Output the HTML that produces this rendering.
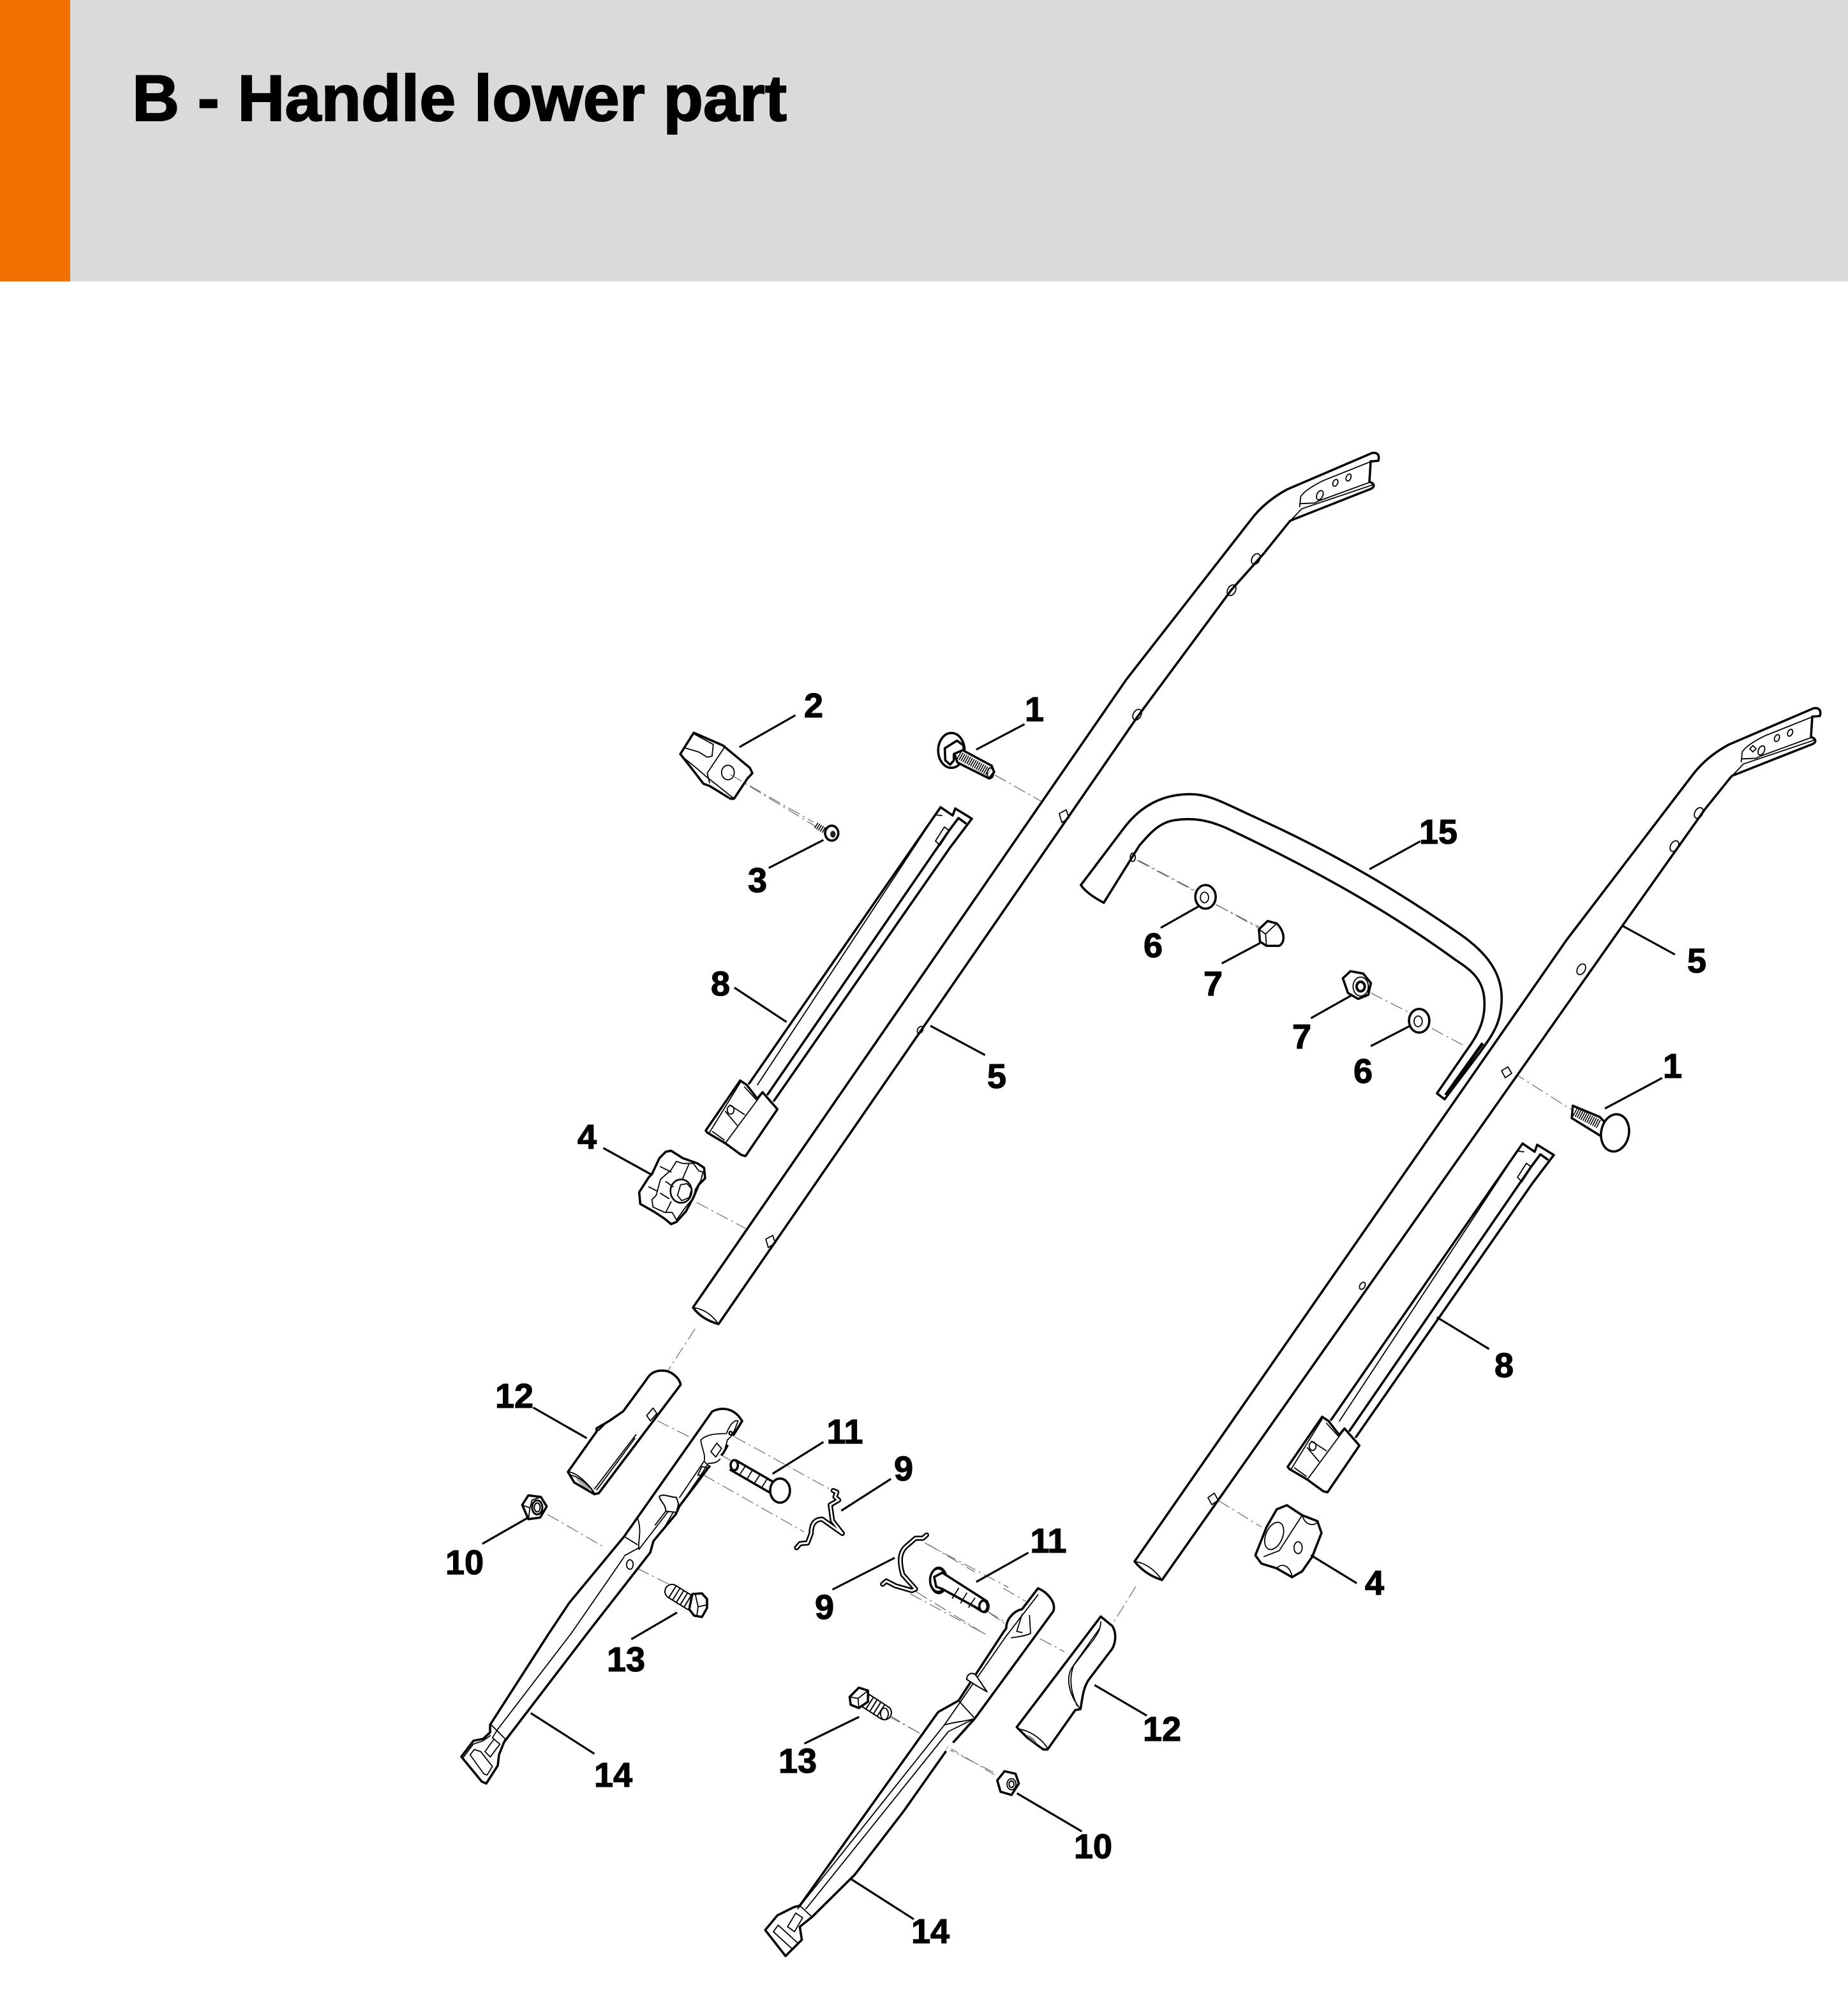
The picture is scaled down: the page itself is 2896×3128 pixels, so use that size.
<!DOCTYPE html>
<html><head><meta charset="utf-8"><title>B - Handle lower part</title>
<style>
html,body{margin:0;padding:0;background:#fff}
svg{display:block}
svg *{vector-effect:non-scaling-stroke}
.p{fill:#fff;stroke:#000;stroke-width:3.6;stroke-linejoin:round;stroke-linecap:round}
.t{fill:none;stroke:#000;stroke-width:1.8;stroke-linejoin:round;stroke-linecap:round}
.b{fill:none;stroke:#000;stroke-width:3.6;stroke-linejoin:round;stroke-linecap:round}
.d{fill:none;stroke:#666;stroke-width:1.2;stroke-dasharray:20 6 3 6}
.l{fill:none;stroke:#000;stroke-width:3.2}
.c1{fill:none;stroke:#000;stroke-width:8;stroke-linejoin:round;stroke-linecap:round}
.c2{fill:none;stroke:#fff;stroke-width:3;stroke-linejoin:round;stroke-linecap:round}
.w{fill:none;stroke:#fff;stroke-width:6}
text.n{font-family:"Liberation Sans",sans-serif;font-weight:bold;font-size:54px;fill:#000;stroke:#000;stroke-width:1.2;text-anchor:middle}
</style></head><body>
<svg xmlns="http://www.w3.org/2000/svg" width="2896" height="3128" viewBox="0 0 2896 3128">
<rect width="2896" height="3128" fill="#fff"/>
<rect width="2896" height="441" fill="#d9dbda"/>
<rect width="110" height="441" fill="#f07000"/>
<text x="207" y="189" font-family="'Liberation Sans',sans-serif" font-weight="bold" font-size="102" textLength="1026" lengthAdjust="spacingAndGlyphs" fill="#000" stroke="#000" stroke-width="2">B - Handle lower part</text>

<!-- dashed centre lines -->
<g transform="translate(1000,680) scale(.7653,.9056)">
<path class="d" d="M190,590L365,680M730,590L830,638M120,1330L220,1375M1025,738L1140,790M1185,815L1270,855"/>
</g>
<g transform="translate(1650,1080) scale(.7972,.9247)">
<path class="d" d="M625,515L705,550M745,575L810,605M905,650L1018,712M325,1375L410,1420"/>
</g>
<g transform="translate(680,2040) scale(.574,.4974)">
<path class="d" d="M713,85L640,215M610,375L705,430M820,425L1080,590M780,480L810,500M735,545L1010,725M310,670L460,770M555,840L650,895M1340,760L1568,900M1300,920L1510,1050M1510,975L1568,1015M1240,1305L1335,1365M1400,1400L1530,1490"/>
</g>
<g transform="translate(1180,2280) scale(.638,.51)">
<path class="d" d="M940,405L883,520M615,410L670,450M580,485L620,520M705,565L765,605M465,895L590,975"/>
</g>

<!-- 15 -->
<g transform="translate(1650,1080) scale(.7972,.9247)">
<path class="p" d="M55,332L140,235C175,195 220,178 270,178C310,178 340,195 400,218C520,265 650,325 800,415C850,445 885,480 882,530C880,570 860,590 840,615L770,695L755,685L815,610C845,575 850,550 848,525C845,490 820,475 790,458C650,370 500,300 340,235C300,220 270,218 240,222C210,225 190,245 170,265L100,362C85,355 65,345 55,332Z"/>
<line x1="845" y1="600" x2="772" y2="688" stroke="#000" stroke-width="5"/>
<ellipse class="t" cx="157" cy="285" rx="5" ry="7"/>
<path class="d" d="M165,290L285,345M320,365L410,405"/>
</g>

<!-- handles -->
<path class="p" d="M1086,2049L1765,1065L1960,815C1975,795 1993,780 2017,767L2150,710C2160,708 2162,715 2160,722C2158,722 2155,723 2148,723L2146,755C2155,758 2155,764 2146,767L2037,810L2022,816L2017,822L1980,868L1930,924L1782,1124L1126,2075Q1100,2068 1086,2049Z"/>
<path class="t" d="M1086,2049Q1110,2052 1126,2075"/>
<path class="p" d="M1778,2447L2455,1473L2652,1215C2667,1195 2685,1180 2709,1167L2842,1110C2852,1108 2854,1115 2852,1122C2850,1122 2847,1123 2840,1123L2838,1155C2847,1158 2847,1164 2838,1167L2729,1210L2714,1216L2709,1222L2672,1268L2543,1450L1821,2476Q1795,2468 1778,2447Z"/>
<path class="t" d="M1778,2447Q1802,2450 1821,2476"/>
<path class="w" d="M2370,1672L2364,1680" />
<g transform="translate(1960,690) scale(.3333)">
<path class="t" d="M565,100L340,190C290,215 250,240 235,265L230,312M232,298L300,295M558,198L320,285L300,295M240,322L578,208M240,322L185,380"/>
<ellipse class="t" cx="325" cy="258" rx="14" ry="23" transform="rotate(25 325 258)"/>
<ellipse class="t" cx="398" cy="200" rx="11" ry="17" transform="rotate(25 398 200)"/>
<ellipse class="t" cx="460" cy="175" rx="11" ry="17" transform="rotate(25 460 175)"/>
</g>
<g transform="translate(2652,1090) scale(.3333)">
<path class="t" d="M565,100L340,190C290,215 250,240 235,265L230,312M232,298L300,295M558,198L320,285L300,295M240,322L578,208M240,322L185,380"/>
<ellipse class="t" cx="325" cy="258" rx="14" ry="23" transform="rotate(25 325 258)"/>
<ellipse class="t" cx="398" cy="200" rx="11" ry="17" transform="rotate(25 398 200)"/>
<ellipse class="t" cx="460" cy="175" rx="11" ry="17" transform="rotate(25 460 175)"/>
<path class="t" d="M270,250L285,235L300,250L285,265Z"/>
</g>
<!-- holes and tabs on handles -->
<g>
<ellipse class="t" cx="1968" cy="876" rx="6" ry="9" transform="rotate(30 1968 876)"/>
<ellipse class="t" cx="1930" cy="925" rx="6" ry="9" transform="rotate(30 1930 925)"/>
<ellipse class="t" cx="1782" cy="1120" rx="6" ry="9" transform="rotate(30 1782 1120)"/>
<ellipse class="t" cx="1442" cy="1614" rx="4" ry="6" transform="rotate(30 1442 1614)"/>
<path class="t" d="M1660,1275L1671,1269L1675,1282L1664,1289Z"/>
<path class="t" d="M1200,1942L1211,1936L1215,1948L1204,1955Z"/>
<ellipse class="t" cx="2662" cy="1274" rx="6" ry="9" transform="rotate(30 2662 1274)"/>
<ellipse class="t" cx="2624" cy="1326" rx="6" ry="9" transform="rotate(30 2624 1326)"/>
<ellipse class="t" cx="2478" cy="1519" rx="6" ry="9" transform="rotate(30 2478 1519)"/>
<ellipse class="t" cx="2135" cy="2015" rx="4" ry="6" transform="rotate(30 2135 2015)"/>
<path class="t" d="M2353,1678L2363,1672L2369,1682L2359,1689Z"/>
<path class="t" d="M1893,2347L1903,2340L1909,2351L1899,2358Z"/>
</g>

<!-- 2, 1, 3 -->
<g transform="translate(980,1120) scale(.3827,.3333)">
<path class="p" d="M225,185L280,85L400,145L510,250L520,275L500,300L445,395L430,395L345,335L320,325L290,280Z"/>
<path class="t" d="M405,155L335,275L345,320M240,155L300,175L335,200L355,195L360,140L280,90M225,190L290,250L330,290L440,390"/>
<ellipse class="t" cx="420" cy="272" rx="26" ry="34"/>
<path class="d" d="M430,282L770,505"/>
<ellipse class="p" cx="1335" cy="168" rx="54" ry="82"/>
<path class="p" d="M1345,175L1370,160L1500,240L1510,270L1490,300L1360,225Z"/>
<line x1="1365" y1="190" x2="1490" y2="270" stroke="#000" stroke-width="13" style="stroke-dasharray:1.6 1.8"/>
<ellipse class="t" cx="1495" cy="275" rx="13" ry="25"/>
<path class="p" d="M1308,158L1358,122L1385,145L1385,165L1345,185L1345,215L1330,235L1310,215Z"/>
<line x1="780" y1="520" x2="822" y2="548" stroke="#000" stroke-width="10" style="stroke-dasharray:1.6 1.8"/>
<ellipse class="p" cx="845" cy="557" rx="27" ry="35"/>
<ellipse cx="850" cy="562" rx="11" ry="16" fill="#222"/>
</g>

<!-- 8 (both) -->
<g id="r8">
<path d="M1174,1698L1474,1265L1493,1278L1497,1267L1523,1283L1489,1328L1213,1725Z" fill="#fff"/>
<path class="b" d="M1174,1698L1474,1265L1493,1278L1497,1267L1523,1283M1203,1715L1487,1302L1502,1282L1513,1290M1213,1725L1489,1328L1523,1283"/>
<path class="t" d="M1187,1700L1466,1277L1476,1278M1466,1318L1480,1296L1488,1302L1473,1325Z"/>
<g transform="translate(980,1660) scale(.3333)">
<path class="p" d="M378,335L540,100L570,120L620,185L645,155L715,235L565,455L545,450L470,395L385,345Z"/>
<path class="t" d="M395,345L540,110M470,395L640,165M560,130L615,190M470,245L525,310M490,215L560,260M410,340L465,380"/>
<ellipse class="t" cx="495" cy="238" rx="16" ry="20"/>
</g>
</g>
<use href="#r8" x="912" y="527"/>

<!-- knob 4 left -->
<g transform="translate(980,1660) scale(.3333)">
<path class="p" d="M65,625L110,555L125,540L160,465L190,435L215,430L270,465L340,490L370,510L375,560L345,590L320,650L285,715L240,765L215,775L185,750L140,720L105,700L70,680Z"/>
<path class="t" d="M215,520L240,480L270,490L320,490L345,525L365,530L355,570L330,610L320,650L280,700L240,755L220,720L185,720L130,695L125,660L145,640L165,565L215,520M165,505L215,530M110,600L150,620M300,490L270,560M215,670L190,720M190,575L225,600M165,630L205,655"/>
<ellipse class="b" cx="262" cy="620" rx="50" ry="55" style="stroke-width:2.6"/>
<path class="t" d="M260,590L290,585L312,610L300,650L265,665L245,640Z"/>
</g>

<!-- knob 4 right -->
<g transform="translate(1650,1080) scale(.7972,.9247)">
<path class="p" d="M398,1468L420,1420L440,1390L460,1383L490,1400L520,1410L528,1430L510,1470L490,1495L470,1505L440,1490L410,1482Z"/>
<ellipse class="t" cx="435" cy="1435" rx="16" ry="25" transform="rotate(30 435 1435)"/>
<ellipse class="t" cx="482" cy="1455" rx="8" ry="10"/>
<path class="t" d="M490,1400C495,1415 510,1420 520,1412M440,1490C450,1480 465,1485 470,1503M415,1470L445,1460L490,1400"/>
</g>

<!-- washers and nuts -->
<g transform="translate(1650,1080) scale(.7972,.9247)">
<ellipse class="p" cx="300" cy="352" rx="20" ry="20"/><ellipse class="t" cx="298" cy="353" rx="8" ry="9"/>
<path class="p" d="M405,407L422,393L440,397C455,410 458,428 445,435L420,435L407,428Z"/>
<path class="t" d="M405,407L418,415L440,397M418,415L420,435"/>
<path class="p" d="M570,490L585,478L610,482L625,498L620,518L600,525L580,515Z"/>
<ellipse class="t" cx="605" cy="504" rx="15" ry="16"/><circle cx="605" cy="504" r="8" fill="none" stroke="#000" stroke-width="4"/>
<ellipse class="p" cx="720" cy="562" rx="20" ry="20"/><ellipse class="t" cx="718" cy="563" rx="8" ry="9"/>
<!-- 1 right -->
<path class="p" d="M1022,706L1075,725L1092,740L1082,760L1020,727Z"/>
<line x1="1026" y1="716" x2="1075" y2="738" stroke="#000" stroke-width="14" style="stroke-dasharray:1.6 1.8"/>
<ellipse class="p" cx="1105" cy="752" rx="27" ry="32" transform="rotate(20 1105 752)"/>
</g>

<!-- 12 left + clip area of 14 left -->
<g transform="translate(880,2130) scale(.3333)">
<path class="p" d="M30,530L165,340L165,325L225,290L290,245L400,95C420,60 450,50 490,55C520,60 555,90 560,120L175,630L155,635L60,580Z"/>
<path class="t" d="M30,530C70,530 130,590 155,630M40,545C80,550 125,590 148,622M350,355L155,610M345,372L165,615M165,340L205,305L175,335"/>
<ellipse cx="100" cy="585" rx="40" ry="9" transform="rotate(40 100 585)" fill="#555" opacity=".5"/>
<path class="t" d="M400,265L430,230L448,255L418,290Z"/>
</g>
<path class="p" d="M723,2753L742,2728L757,2725L768,2715L768,2703L860,2560L892,2512L978,2408L1116,2212C1130,2205 1150,2205 1163,2227L1150,2248L1133,2278L1110,2300L1093,2323L1065,2360L1059,2373L1024,2415L1019,2433L920,2560L790,2730L782,2750L780,2767L762,2795L755,2792Z"/>
<path class="w" d="M1150,2251L1140,2264M1131,2282L1113,2297"/>
<g transform="translate(880,2130) scale(.3333)">
<path class="t" d="M775,350C795,300 815,285 830,290L815,330L800,360L780,380L770,415M770,350C720,350 680,355 655,380C655,410 680,450 670,480L555,650M670,480L690,500M745,470C730,490 700,490 690,490L655,545L640,545L660,505L685,510M655,545L555,690"/>
<path class="p" style="stroke-width:2" d="M460,645C480,630 510,650 540,650L550,680L540,720L490,715C490,680 460,665 460,645Z"/>
<path class="t" d="M490,715L440,780M525,720L490,780"/>
<path class="t" d="M702,435L730,395L752,420L725,460Z"/>
<ellipse class="b" cx="795" cy="348" rx="7" ry="8" style="stroke-width:2.4"/>
</g>
<g transform="translate(680,2040) scale(.574,.4974)">
<path class="t" d="M520,740L555,765M555,680C570,720 555,760 560,780"/>
<path class="t" d="M560,780L640,660"/>
<path class="t" d="M520,800L560,775"/>
<ellipse class="t" cx="535" cy="828" rx="9" ry="15"/>
</g>
<path class="t" d="M780,2710L895,2560L978,2440"/>
<g transform="translate(700,2560) scale(.3333)">
<path class="t" d="M80,580L125,520L170,505L205,480M110,570L130,545L160,555L215,625L190,665L175,660ZM210,430L275,495L265,520M240,450L215,490L250,520L205,580L180,555L220,500"/>
</g>

<!-- clips 9 -->
<g transform="translate(680,2040) scale(.574,.4974)">
<path class="c1" d="M1090,595L1100,600L1095,615L1105,625L1082,640L1088,690L1115,730L1060,685C1040,685 1030,700 1030,730L1020,760L1000,762L990,775"/>
<path class="c2" d="M1090,595L1100,600L1095,615L1105,625L1082,640L1088,690L1115,730L1060,685C1040,685 1030,700 1030,730L1020,760L1000,762L990,775"/>
<path class="c1" d="M1345,735L1335,745L1315,745L1290,770C1270,790 1270,820 1280,860L1315,905L1305,910L1260,895L1235,880L1225,890"/>
<path class="c2" d="M1345,735L1335,745L1315,745L1290,770C1270,790 1270,820 1280,860L1315,905L1305,910L1260,895L1235,880L1225,890"/>

<!-- 11 a -->
<path class="p" d="M825,500L930,570L915,600L810,530Z"/>
<ellipse class="p" cx="820" cy="515" rx="10" ry="16"/>
<path class="t" d="M850,518L835,545M870,530L855,558M890,545L875,572M910,558L895,585"/>
<ellipse class="p" cx="945" cy="595" rx="27" ry="38"/>
<!-- 11 b -->
<ellipse class="p" cx="1378" cy="878" rx="22" ry="40"/>
<path class="p" d="M1375,875L1392,858L1495,945L1510,950L1495,975L1400,905L1385,905Z"/>
<path class="t" d="M1430,890L1415,918M1450,905L1435,932M1470,920L1455,948"/>
<ellipse class="p" cx="1503" cy="960" rx="11" ry="18"/>
<!-- 10 left -->
<path class="p" d="M241,640L258,610L292,615L308,645L290,680L258,685Z"/>
<path class="t" d="M241,640L262,650L258,685M262,650L268,625L292,615"/>
<ellipse cx="282" cy="648" rx="14" ry="22" fill="#fff" stroke="#000" stroke-width="3"/>
<ellipse cx="282" cy="648" rx="8" ry="14" fill="none" stroke="#000" stroke-width="2"/>
</g>

<!-- bolts 13 -->
<line x1="1053" y1="2494" x2="1082" y2="2512" stroke="#000" stroke-width="24" stroke-linecap="round"/>
<line x1="1053" y1="2494" x2="1082" y2="2512" stroke="#fff" stroke-width="20" stroke-linecap="round"/>
<line x1="1053" y1="2494" x2="1082" y2="2512" stroke="#000" stroke-width="20" style="stroke-dasharray:2 5"/>
<path class="p" d="M1085,2498L1100,2497L1108,2506L1108,2520L1100,2534L1088,2532L1080,2522Z"/>
<path class="t" d="M1090,2500L1094,2518L1108,2515M1094,2518L1092,2532"/>
<line x1="1352" y1="2662" x2="1386" y2="2684" stroke="#000" stroke-width="24" stroke-linecap="round"/>
<line x1="1352" y1="2662" x2="1386" y2="2684" stroke="#fff" stroke-width="20" stroke-linecap="round"/>
<line x1="1356" y1="2665" x2="1386" y2="2684" stroke="#000" stroke-width="20" style="stroke-dasharray:2 5"/>
<ellipse class="t" cx="1386" cy="2686" rx="6" ry="9" style="fill:#fff"/>
<g transform="translate(680,2040) scale(.574,.4974)">
<path class="p" d="M1135,1245L1160,1216L1185,1225L1185,1260L1160,1280L1138,1270Z"/>
<path class="t" d="M1135,1245L1158,1250L1185,1225M1158,1250L1160,1280"/>
</g>

<!-- 14 right and others -->
<g transform="translate(1180,2280) scale(.638,.51)">
<path class="d" d="M335,800L415,860"/>
<path class="p" d="M30,1460L60,1415L100,1390L115,1385L455,790L505,755L615,545L622,533C622,505 640,480 661,474L700,410C720,420 745,450 738,480L545,810L480,900L370,1095L250,1290L145,1420L115,1450L120,1490L80,1540Z"/>
<path class="w" d="M492,885L476,912"/>
<path class="t" d="M110,1395L470,830L620,560L700,430M130,1395L480,850L545,810M115,1385L145,1420M505,755L545,810M470,830C495,820 520,820 545,810"/>
<path class="t" d="M50,1465L62,1445L110,1500L98,1520ZM85,1450L105,1408L122,1422L102,1465Z"/>
<path class="p" style="stroke-width:2" d="M525,690C525,672 540,665 548,678L575,728L550,710Z"/>
<path class="d" d="M430,275L545,360M400,420L575,555"/>
<!-- 11 -->
<ellipse class="p" cx="455" cy="385" rx="20" ry="36"/>
<path class="p" d="M445,375L465,362L550,430L575,450L565,480L535,460L465,412L450,405Z"/>
<path class="t" d="M505,410L490,440M525,425L510,455M545,440L530,468"/>
<ellipse class="p" cx="566" cy="465" rx="10" ry="17"/>
<!-- 10 -->
<path class="p" d="M600,1000L618,972L645,980L653,1010L635,1045L608,1035Z"/>
<ellipse class="t" cx="635" cy="1012" rx="11" ry="17"/>
<ellipse cx="635" cy="1012" rx="6" ry="10" fill="none" stroke="#000" stroke-width="2"/>
</g>
<g transform="translate(1560,2480) scale(.3333)">
<path class="t" d="M160,155L165,240C130,255 100,255 75,260M125,150L100,230L125,235"/>
<path class="p" d="M100,680L495,160L550,205C570,240 565,280 550,310L440,455C415,490 410,530 400,595L375,600L245,785L225,785L150,730Z"/>
<path class="t" d="M495,185C495,220 480,240 460,270L360,400C335,440 335,510 395,590M490,215L370,385C350,430 345,500 385,580M105,690C150,690 215,730 245,780"/>
<ellipse cx="170" cy="738" rx="30" ry="9" transform="rotate(40 170 738)" fill="#444" opacity=".6"/>
</g>

<!-- leaders -->
<g transform="scale(1.9945)">
<path class="l" d="M767,589L805,569M581,587L625,562M604,682L647,660M577,776L618,803M731,806L774,829M474,902L512,923M1076,683L1116,661M912,729L942,712M960,757L990,741M1030,800L1062,782M1077,822L1108,806M1274,727L1316,750M1261,871L1306,847M1129,1035L1170,1060M1030,1222L1066,1244M419,1106L461,1130M607,1158L647,1133M661,1187L700,1162M379,1213L414,1193M654,1249L703,1224M767,1243L808,1220M496,1288L532,1267M632,1370L675,1349M417,1346L467,1378M668,1476L718,1508M860,1324L901,1348M799,1409L850,1439"/>
</g>

<!-- labels -->
<g>
<text class="n" x="1621" y="1130">1</text>
<text class="n" x="1275" y="1124">2</text>
<text class="n" x="1187" y="1398">3</text>
<text class="n" x="1129" y="1560">8</text>
<text class="n" x="1562" y="1705">5</text>
<text class="n" x="920" y="1800">4</text>
<text class="n" x="2254" y="1322">15</text>
<text class="n" x="1807" y="1500">6</text>
<text class="n" x="1901" y="1560">7</text>
<text class="n" x="2040" y="1643">7</text>
<text class="n" x="2136" y="1697">6</text>
<text class="n" x="2659" y="1524">5</text>
<text class="n" x="2621" y="1689">1</text>
<text class="n" x="2357" y="2158">8</text>
<text class="n" x="2154" y="2499">4</text>
<text class="n" x="806" y="2206">12</text>
<text class="n" x="1324" y="2262">11</text>
<text class="n" x="1416" y="2320">9</text>
<text class="n" x="728" y="2467">10</text>
<text class="n" x="1292" y="2537">9</text>
<text class="n" x="1643" y="2433">11</text>
<text class="n" x="981" y="2619">13</text>
<text class="n" x="1250" y="2778">13</text>
<text class="n" x="961" y="2800">14</text>
<text class="n" x="1458" y="3045">14</text>
<text class="n" x="1821" y="2728">12</text>
<text class="n" x="1713" y="2912">10</text>
</g>
</svg>
</body></html>
